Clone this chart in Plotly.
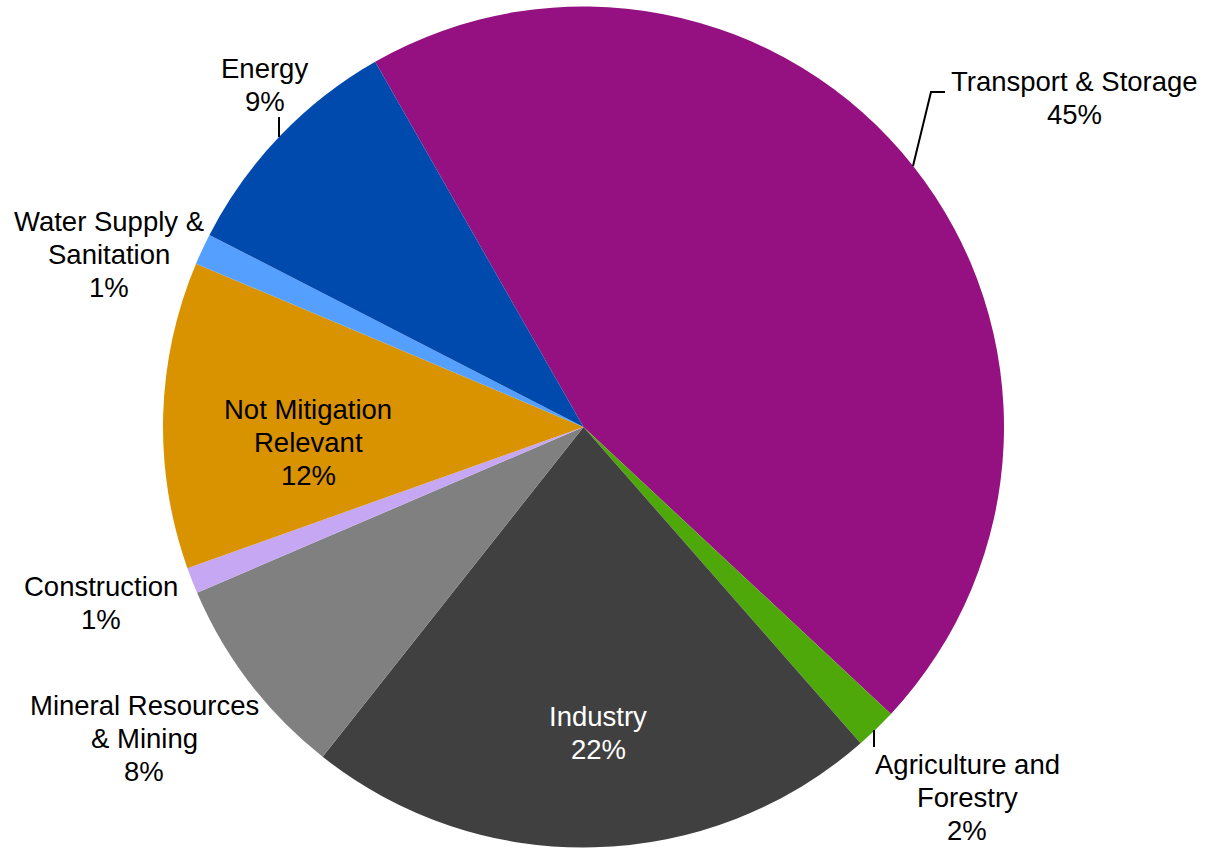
import plotly.graph_objects as go

# Sector shares of the portfolio (percent)
sectors = [
    "Transport & Storage",
    "Agriculture and Forestry",
    "Industry",
    "Mineral Resources & Mining",
    "Construction",
    "Not Mitigation Relevant",
    "Water Supply & Sanitation",
    "Energy",
]
shares = [45.2, 1.6, 22.1, 7.9, 1.0, 11.8, 1.2, 9.2]

# How each sector name is broken over lines in its label
label_lines = [
    ["Transport & Storage"],
    ["Agriculture and", "Forestry"],
    ["Industry"],
    ["Mineral Resources", "& Mining"],
    ["Construction"],
    ["Not Mitigation", "Relevant"],
    ["Water Supply &", "Sanitation"],
    ["Energy"],
]

colors = ["#951181", "#4EA80A", "#404040", "#808080",
          "#C5A7F3", "#D99200", "#55A0FF", "#004AAD"]
text_colors = ["black", "black", "white", "black",
               "black", "black", "black", "black"]

W, H = 1205, 850
CX, CY, R = 583.5, 427, 420.5          # pie centre and radius in pixels
LINE_GAP = 33.0                         # pixel distance between label lines
FONT = "Liberation Sans, Arial, sans-serif"
FONT_SIZE = 27.5

# Pixel centre of the first line of each label
label_anchor = [
    (1074, 82), (967, 764), (598, 716), (144, 705),
    (101, 586), (308, 409), (109, 221.7), (264.5, 68.3),
]


def fx(x):
    return x / W


def fy(y):
    return 1 - y / H


fig = go.Figure(go.Pie(
    labels=sectors,
    values=shares,
    sort=False,
    direction="clockwise",
    rotation=-29.7,
    marker=dict(colors=colors, line=dict(width=0)),
    textinfo="none",
    hoverinfo="label+percent",
    showlegend=False,
    domain=dict(x=[fx(CX - R), fx(CX + R)], y=[fy(CY + R), fy(CY - R)]),
))

total = sum(shares)
annotations = []
for lines, val, (ax, ay), col in zip(label_lines, shares, label_anchor, text_colors):
    rows = lines + [f"{round(val / total * 100)}%"]
    for i, row in enumerate(rows):
        annotations.append(dict(
            x=fx(ax), y=fy(ay + i * LINE_GAP), xref="paper", yref="paper",
            text=row, showarrow=False, xanchor="center", yanchor="middle",
            font=dict(family=FONT, size=FONT_SIZE, color=col),
        ))

# Leader lines from labels to their slices
leaders = [
    [(913, 166), (931, 92), (945, 92)],
    [(279, 117), (279, 137)],
    [(874, 730), (874, 747)],
]
shapes = []
for pts in leaders:
    path = "M " + " L ".join(f"{fx(x)},{fy(y)}" for x, y in pts)
    shapes.append(dict(type="path", path=path, xref="paper", yref="paper",
                       line=dict(color="black", width=2)))

fig.update_layout(
    width=W, height=H,
    margin=dict(l=0, r=0, t=0, b=0),
    paper_bgcolor="white",
    plot_bgcolor="white",
    annotations=annotations,
    shapes=shapes,
)

fig.write_html("out.html")
